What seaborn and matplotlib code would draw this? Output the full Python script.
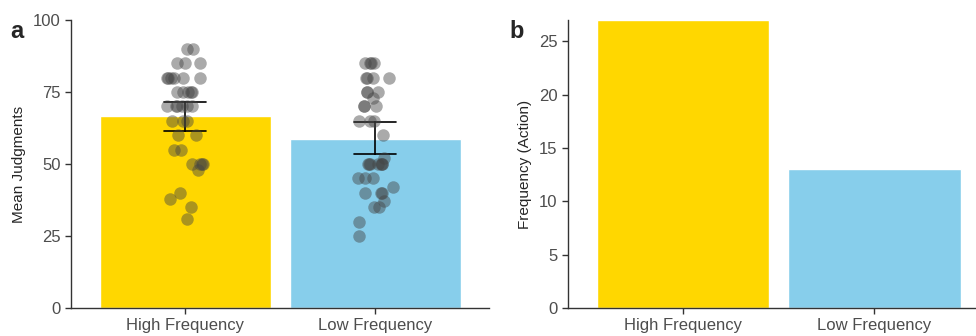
import numpy as np
import pandas as pd
import matplotlib
matplotlib.use("Agg")
import matplotlib.pyplot as plt
import seaborn as sns

# Panel a: individual judgments per condition
high_judgments = [90, 90, 85, 85, 85, 80, 80, 80, 80, 80, 80, 75, 75, 75, 75, 75,
                  70, 70, 70, 70, 70, 70, 65, 65, 65, 60, 60, 55, 55,
                  50, 50, 50, 50, 48, 40, 38, 35, 31]
low_judgments = [85, 85, 85, 85, 80, 80, 80, 80, 75, 75, 75, 73, 70, 70, 70,
                 65, 65, 65, 60, 52, 50, 50, 50, 50, 50, 50, 50,
                 45, 45, 45, 42, 40, 40, 40, 37, 35, 35, 30, 25]
conditions = ["High Frequency", "Low Frequency"]

# Panel b: number of action choices
action_counts = [27, 13]

palette = ["#FFD700", "#87CEEB"]

df = pd.DataFrame({
    "condition": [conditions[0]] * len(high_judgments) + [conditions[1]] * len(low_judgments),
    "judgment": high_judgments + low_judgments,
})
df_b = pd.DataFrame({"condition": conditions, "count": action_counts})

sns.set_style("ticks")
plt.rcParams["font.family"] = ["Liberation Sans", "DejaVu Sans"]

fig = plt.figure(figsize=(9.76, 3.36), dpi=100)
ax_a = fig.add_axes([71 / 976, 28 / 336, 418 / 976, 288 / 336])
ax_b = fig.add_axes([568 / 976, 28 / 336, 408 / 976, 288 / 336])

np.random.seed(3)
sns.barplot(data=df, x="condition", y="judgment", hue="condition", palette=palette,
            saturation=1, errorbar=("ci", 95), capsize=0.22, width=0.9,
            err_kws={"color": "black", "linewidth": 1.2},
            legend=False, ax=ax_a, seed=3)
sns.stripplot(data=df, x="condition", y="judgment", color="#444444", alpha=0.45, size=9,
              jitter=0.1, linewidth=0, ax=ax_a)

sns.barplot(data=df_b, x="condition", y="count", hue="condition", palette=palette,
            saturation=1, width=0.9, legend=False, ax=ax_b)

for ax in (ax_a, ax_b):
    ax.set_xlabel("")
    sns.despine(ax=ax)
    ax.tick_params(axis="both", colors="#333333", labelcolor="#4d4d4d", labelsize=12,
                   length=4, width=1)
    for s in ("left", "bottom"):
        ax.spines[s].set_color("#333333")
        ax.spines[s].set_linewidth(1)

ax_a.set_xlim(-0.6, 1.6)
ax_a.set_ylim(0, 100)
ax_a.set_yticks([0, 25, 50, 75, 100])
ax_a.set_ylabel("Mean Judgments", fontsize=11, labelpad=5)

ax_b.set_xlim(-0.6, 1.53)
ax_b.set_ylim(0, 27)
ax_b.set_yticks([0, 5, 10, 15, 20, 25])
ax_b.set_ylabel("Frequency (Action)", fontsize=11, labelpad=5)

fig.text(10 / 976, 1 - 38 / 336, "a", fontsize=17, fontweight="bold")
fig.text(509 / 976, 1 - 38 / 336, "b", fontsize=17, fontweight="bold")

fig.savefig("out.png", dpi=100)
